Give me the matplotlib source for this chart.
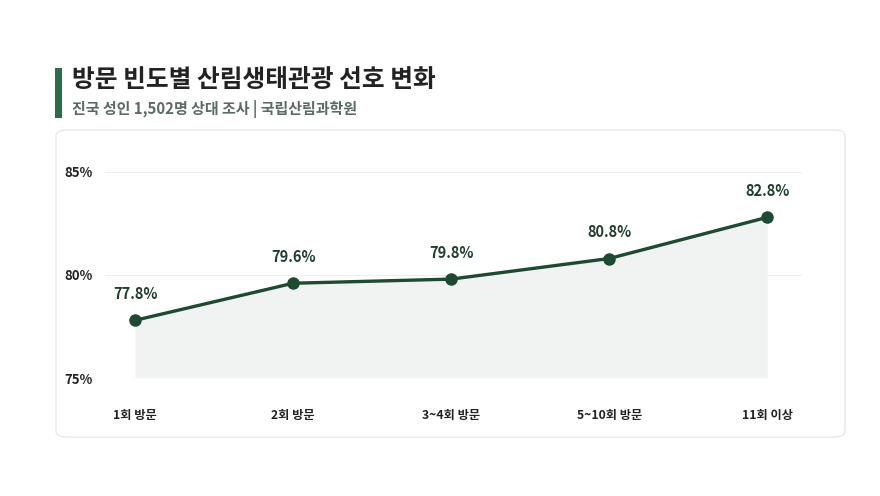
import matplotlib
matplotlib.use("Agg")
import matplotlib.pyplot as plt
from matplotlib.patches import FancyBboxPatch, Rectangle

plt.rcParams['font.family'] = ['Noto Sans CJK KR', 'DejaVu Sans']

categories = ["1회 방문", "2회 방문", "3~4회 방문", "5~10회 방문", "11회 이상"]
values = [77.8, 79.6, 79.8, 80.8, 82.8]
yticks = [75, 80, 85]
title = "방문 빈도별 산림생태관광 선호 변화"
subtitle = "진국 성인 1,502명 상대 조사 | 국립산림과학원"

W, H = 880, 496
fig = plt.figure(figsize=(W / 100, H / 100), dpi=100)
fig.patch.set_facecolor("white")

# card background
card = FancyBboxPatch((56 / W, 1 - 437 / H), (845 - 56) / W, (437 - 130) / H,
                      boxstyle="round,pad=0,rounding_size=0.012",
                      transform=fig.transFigure, facecolor="white",
                      edgecolor="#e6e8e7", linewidth=1.0, zorder=-5)
fig.patches.append(card)

# title bar
fig.patches.append(Rectangle((55 / W, 1 - 118 / H), 7 / W, 50 / H,
                             transform=fig.transFigure, facecolor="#2e6b4a",
                             edgecolor="none", zorder=-5))
fig.text(72 / W, 1 - 80 / H, title, fontsize=17.8, fontweight="bold",
         color="#222222", va="center", ha="left")
fig.text(72 / W, 1 - 109 / H, subtitle, fontsize=10.8, fontweight="bold",
         color="#5b6b62", va="center", ha="left")

left, right = 105 / W, 802 / W
bottom, top = 1 - 378 / H, 1 - 172 / H
ax = fig.add_axes([left, bottom, right - left, top - bottom], zorder=2)
ax.set_facecolor("none")

x = list(range(len(categories)))
ax.fill_between(x, values, 75, color="#f1f3f2", zorder=1, linewidth=0)
ax.plot(x, values, color="#1d4a30", linewidth=2.4, marker="o",
        markersize=8, zorder=3, solid_capstyle="round")

for xi, v in zip(x, values):
    ax.annotate(f"{v:.1f}%", (xi, v), xytext=(0, 13), textcoords="offset points",
                ha="center", va="bottom", fontsize=10.5, fontweight="bold",
                color="#1f3d2c")

ax.set_xlim(-0.19, 4.22)
ax.set_ylim(75, 85)
ax.set_yticks(yticks)
ax.set_yticklabels([f"{t}%" for t in yticks])
ax.set_xticks(x)
ax.set_xticklabels(categories)
ax.grid(axis="y", color="#eeeeee", linewidth=0.8)
ax.grid(axis="x", visible=False)
ax.set_axisbelow(True)
for s in ax.spines.values():
    s.set_visible(False)
ax.tick_params(axis="both", length=0)
ax.tick_params(axis="y", labelsize=9.5, labelcolor="#222222")
ax.tick_params(axis="x", pad=22, labelsize=8.8, labelcolor="#222222")
for lab in ax.get_yticklabels() + ax.get_xticklabels():
    lab.set_fontweight("bold")
for lab in ax.get_yticklabels():
    lab.set_horizontalalignment("left")
ax.yaxis.set_tick_params(pad=29)

fig.savefig("out.png", dpi=100, facecolor="white")
